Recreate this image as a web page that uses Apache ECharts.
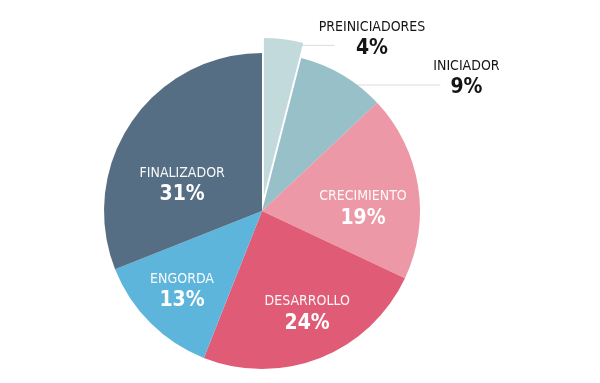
<!DOCTYPE html>
<html><head><meta charset="utf-8">
<script src="https://cdn.jsdelivr.net/npm/echarts@6/dist/echarts.min.js"></script>
<style>html,body{margin:0;padding:0;background:#fff}#c{width:600px;height:383px}</style>
</head><body><div id="c"></div>
<script>
const categories = ['PREINICIADORES', 'INICIADOR', 'CRECIMIENTO', 'DESARROLLO', 'ENGORDA', 'FINALIZADOR'];
const shares = [4, 9, 19, 24, 13, 31];

// styling config (not data)
const colors = ['#c3dadd', '#97c0c8', '#ec98a7', '#e05b76', '#5db5dc', '#566e84'];
const outsideLabels = ['PREINICIADORES', 'INICIADOR'];
const explodedIndex = 0;
// inside labels: nudge from library's inside position; outside labels: offset from leader-line end
const labelNudge = {
  PREINICIADORES: [58, -1], INICIADOR: [36, 3.5],
  CRECIMIENTO: [20, 10], DESARROLLO: [15, 26], ENGORDA: [-22, 22], FINALIZADOR: [-12, 20]
};
const leaderLen = { PREINICIADORES: 30, INICIADOR: 88 };
// leader segment relative to the label centre
const leaderSeg = { PREINICIADORES: [[-72, 7], [-37, 7]], INICIADOR: [[-116, 6.5], [-26, 6.5]] };
const FONT = '"Liberation Sans Narrow", "DejaVu Sans Condensed", sans-serif';

function rich(color, nameOpacity) {
  return {
    n: { fontFamily: FONT, fontSize: 14, lineHeight: 19, color: color, opacity: nameOpacity, align: 'center' },
    p: { fontFamily: FONT, fontSize: 21, fontWeight: 'bold', lineHeight: 24, color: color, align: 'center' }
  };
}

const chart = echarts.init(document.getElementById('c'), null, { renderer: 'canvas' });
chart.setOption({
  backgroundColor: '#fff',
  animation: false,
  series: [{
    type: 'pie',
    center: [262, 211],
    radius: 158,
    startAngle: 90,
    clockwise: true,
    avoidLabelOverlap: false,
    selectedMode: 'single',
    selectedOffset: 15,
    emphasis: { disabled: true, scale: false },
    itemStyle: { borderWidth: 0 },
    label: {
      show: true,
      position: 'inside',
      formatter: function (p) { return '{n|' + p.name + '}\n{p|' + p.value + '%}'; },
      rich: rich('#ffffff', 0.95)
    },
    labelLine: { show: false },
    labelLayout: function (p) {
      const name = categories[p.dataIndex];
      const nd = labelNudge[name];
      if (outsideLabels.indexOf(name) >= 0 && p.labelLinePoints) {
        const pts = p.labelLinePoints;
        const end = pts[pts.length - 1];
        const cx = end[0] + nd[0], cy = end[1] + nd[1];
        const seg = leaderSeg[name];
        const linePts = seg.map(function (q) { return [cx + q[0], cy + q[1]]; });
        if (p.dataIndex === explodedIndex) {
          // the exploded slice keeps the library's own label anchor
          return { align: 'left', verticalAlign: 'middle', labelLinePoints: linePts };
        }
        return { x: cx, y: cy, align: 'center', verticalAlign: 'middle', labelLinePoints: linePts };
      }
      const r = p.labelRect;
      return {
        x: r.x + r.width / 2 + nd[0],
        y: r.y + r.height / 2 + nd[1],
        align: 'center', verticalAlign: 'middle'
      };
    },
    data: categories.map(function (name, i) {
      const isOut = outsideLabels.indexOf(name) >= 0;
      const item = { name: name, value: shares[i], selected: i === explodedIndex, itemStyle: { color: colors[i] } };
      if (isOut) {
        item.label = { position: 'outside', rich: rich('#151515', 1) };
        item.labelLine = { show: true, length: 0, length2: leaderLen[name], lineStyle: { color: '#dcdcdc', width: 1 } };
      }
      return item;
    })
  }]
});
</script>
</body></html>
